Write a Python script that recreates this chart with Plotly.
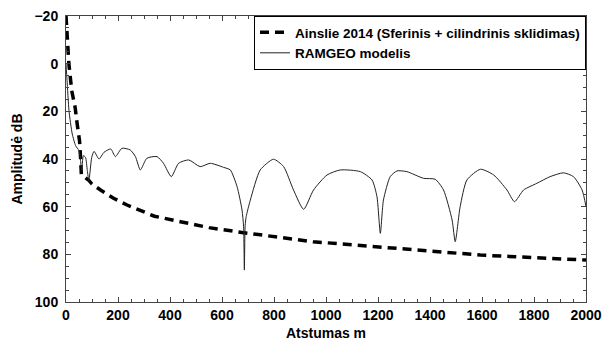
import plotly.graph_objects as go

# Ainslie 2014 (spherical + cylindrical spreading)
ainslie_x = [0, 5, 11, 22, 35, 43, 52, 56, 59, 66, 75, 88, 100, 133, 183, 235, 279, 340,
             440, 550, 683, 800, 950, 1100, 1221, 1400, 1594, 1800, 2000]
ainslie_y = [-20, -12.4, 0, 11.3, 18.3, 25.3, 32.3, 39.3, 46.5, 47.5, 47.9, 49, 50.5, 53,
             56.5, 59.3, 61.4, 64, 66.3, 68.8, 70.9, 72.6, 74.7, 76, 77, 78.7, 80.3, 81.4, 82.4]

# RAMGEO model
ram_x = [0, 4, 11.5, 24, 37, 50, 56, 60, 67, 75, 82, 88, 99, 108, 127, 146, 172, 190,
         215, 247, 267, 286, 311, 350, 375, 405, 433, 472, 516, 555, 606, 632, 658, 677,
         683, 686, 689, 693, 709, 747, 798, 837, 875, 914, 952, 1004, 1055, 1132, 1177,
         1196, 1209, 1221, 1247, 1273, 1311, 1375, 1420, 1452, 1485, 1497, 1516, 1542,
         1594, 1645, 1696, 1725, 1760, 1811, 1862, 1913, 1952, 1985, 2000]
ram_y = [0, 7, 19.7, 29.5, 34.4, 36.5, 40.7, 44.9, 38.6, 39.3, 44.9, 49, 39.3, 36.8, 40,
         37.2, 35.8, 39, 35.5, 36.2, 39, 44.6, 39.7, 39, 41.8, 47.4, 41.8, 40.4, 43.2, 41.8,
         43.5, 44.6, 51.6, 61.4, 68.4, 86.6, 68, 64.2, 57.2, 44.6, 40.1, 43.2, 53, 61.1, 53,
         46.7, 44.6, 45.3, 48.8, 55.8, 71.2, 57.2, 47.4, 45, 45.3, 48.1, 48.5, 53, 65.6, 74.7,
         60, 48.8, 44.3, 46.7, 53, 57.9, 53, 50.2, 47.4, 45.8, 47.4, 53, 60]

x_ticks = [0, 200, 400, 600, 800, 1000, 1200, 1400, 1600, 1800, 2000]
y_ticks = [-20, 0, 20, 40, 60, 80, 100]

FONT = "Liberation Sans, Arial, Helvetica, sans-serif"

fig = go.Figure()
fig.add_trace(go.Scatter(
    x=ainslie_x, y=ainslie_y, mode="lines",
    name="Ainslie 2014 (Sferinis + cilindrinis sklidimas)",
    line=dict(color="black", width=3.5, dash="9px,6px"),
))
fig.add_trace(go.Scatter(
    x=ram_x, y=ram_y, mode="lines", name="RAMGEO modelis",
    line=dict(color="#222222", width=1, shape="spline", smoothing=0.6),
))

axis_common = dict(
    showline=True, linecolor="#444", linewidth=1, mirror="ticks",
    ticks="inside", ticklen=5, tickcolor="#444", tickwidth=1,
    showgrid=False, zeroline=False,
    tickfont=dict(family=FONT, size=14, color="black", weight="bold"),
)

fig.update_xaxes(
    range=[0, 2000], tickvals=x_ticks,
    minor=dict(ticks="inside", dtick=50, ticklen=3, tickcolor="#444", showgrid=False),
    title=dict(text="Atstumas m", font=dict(family=FONT, size=14, color="black", weight="bold"),
               standoff=6),
    **axis_common,
)
fig.update_yaxes(
    range=[100, -20], tickvals=y_ticks,
    minor=dict(ticks="inside", dtick=5, ticklen=3, tickcolor="#444", showgrid=False),
    title=dict(text="Amplitudė dB", font=dict(family=FONT, size=14, color="black", weight="bold"),
               standoff=8),
    ticklabelstandoff=4,
    **axis_common,
)

fig.update_layout(
    width=614, height=344,
    margin=dict(l=66, r=28, t=16, b=42, autoexpand=False),
    plot_bgcolor="white", paper_bgcolor="white",
    legend=dict(
        x=1, y=1, xanchor="right", yanchor="top",
        bgcolor="white", bordercolor="black", borderwidth=1,
        font=dict(family=FONT, size=13.5, color="black", weight="bold"),
        tracegroupgap=0,
    ),
    showlegend=True,
)

fig.write_html("out.html", config={"displayModeBar": False},
               post_script="document.body.style.margin='0';")
